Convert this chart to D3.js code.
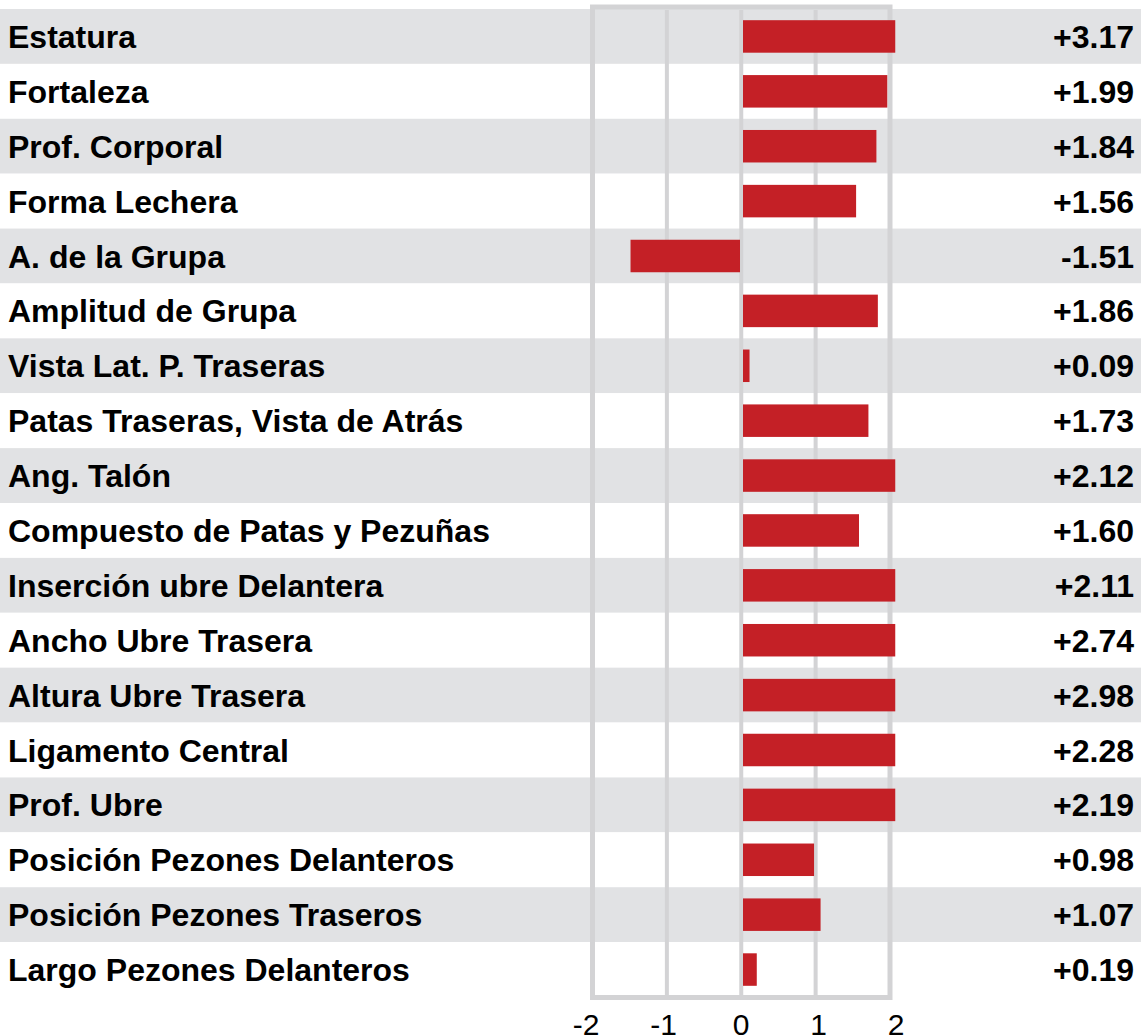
<!DOCTYPE html>
<html>
<head>
<meta charset="utf-8">
<script src="https://cdn.jsdelivr.net/npm/d3@7"></script>
<style>
  html, body { margin: 0; padding: 0; background: #fff; }
  svg { display: block; }
</style>
</head>
<body>
<svg id="chart" width="1141" height="1036"></svg>
<script>
const categories = [
  "Estatura", "Fortaleza", "Prof. Corporal", "Forma Lechera", "A. de la Grupa",
  "Amplitud de Grupa", "Vista Lat. P. Traseras", "Patas Traseras, Vista de Atrás",
  "Ang. Talón", "Compuesto de Patas y Pezuñas", "Inserción ubre Delantera",
  "Ancho Ubre Trasera", "Altura Ubre Trasera", "Ligamento Central", "Prof. Ubre",
  "Posición Pezones Delanteros", "Posición Pezones Traseros", "Largo Pezones Delanteros"
];
const values = [3.17, 1.99, 1.84, 1.56, -1.51, 1.86, 0.09, 1.73, 2.12, 1.60,
                2.11, 2.74, 2.98, 2.28, 2.19, 0.98, 1.07, 0.19];
const ticks = [-2, -1, 0, 1, 2];
const gridTicks = [-1, 0, 1];

const svg = d3.select("#chart");
const W = 1141;
const FONT = "'Liberation Sans', Arial, sans-serif";

const y = d3.scaleBand().domain(categories).range([9, 997]).paddingInner(0);
const x = d3.scaleLinear().domain([-2, 2]).range([592.5, 890]);        // grid/frame
const xb = d3.scaleLinear().domain([-2, 2]).range([596.5, 886.5]);     // bars
const xl = d3.scaleLinear().domain([-2, 2]).range([585.5, 895.5]);     // tick labels
const clampV = v => Math.max(-2.1, Math.min(2.1, v));

// bands
svg.append("g").selectAll("rect").data(categories).join("rect")
  .attr("x", 0).attr("width", W)
  .attr("y", d => y(d)).attr("height", y.bandwidth())
  .attr("fill", (d, i) => i % 2 === 0 ? "#e1e2e4" : "#ffffff");

// grid lines
svg.append("g").selectAll("line").data(gridTicks).join("line")
  .attr("x1", d => x(d)).attr("x2", d => x(d))
  .attr("y1", 10).attr("y2", 996)
  .attr("stroke", "#d3d3d5").attr("stroke-width", 4);

// frame
svg.append("rect")
  .attr("x", x(-2)).attr("y", 7)
  .attr("width", x(2) - x(-2)).attr("height", 990.5)
  .attr("fill", "none").attr("stroke", "#d3d3d5").attr("stroke-width", 5);

// bars
const barH = 32.5;
svg.append("g").selectAll("rect").data(values).join("rect")
  .attr("x", d => d >= 0 ? xb(0) + 1.5 : xb(clampV(d)) - 1.5)
  .attr("width", d => Math.abs(xb(clampV(d)) - xb(0)))
  .attr("y", (d, i) => y(categories[i]) + (y.bandwidth() - barH) / 2)
  .attr("height", barH)
  .attr("fill", "#c42026");

// category labels
svg.append("g").selectAll("text").data(categories).join("text")
  .attr("x", 8)
  .attr("y", d => y(d) + y.bandwidth() / 2 + 11.5)
  .attr("font-family", FONT)
  .attr("font-weight", "bold").attr("font-size", 32)
  .attr("fill", "#000")
  .text(d => d);

// value labels
const fmt = v => d3.format("+.2f")(v).replace("\u2212", "-");
svg.append("g").selectAll("text").data(values).join("text")
  .attr("x", 1134)
  .attr("y", (d, i) => y(categories[i]) + y.bandwidth() / 2 + 11.5)
  .attr("text-anchor", "end")
  .attr("font-family", FONT)
  .attr("font-weight", "bold").attr("font-size", 32)
  .attr("fill", "#000")
  .text(d => fmt(d));

// axis tick labels
const axis = svg.append("g").attr("transform", "translate(0,1010)")
  .call(d3.axisBottom(xl).tickValues(ticks).tickSize(0).tickPadding(0)
    .tickFormat(d => String(d)));
axis.select(".domain").remove();
axis.selectAll("text")
  .attr("font-family", FONT)
  .attr("font-size", 30).attr("fill", "#000")
  .attr("dy", null).attr("y", 25);
</script>
</body>
</html>
